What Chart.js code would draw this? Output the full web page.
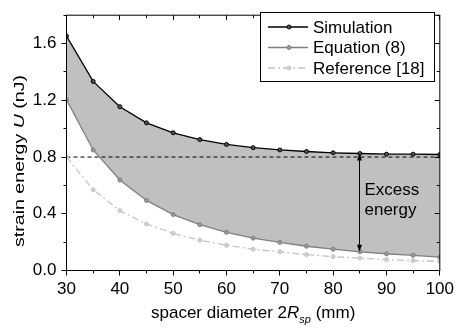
<!DOCTYPE html>
<html><head><meta charset="utf-8">
<script src="https://cdn.jsdelivr.net/npm/chart.js@4.4.0/dist/chart.umd.min.js"></script>
<style>html,body{margin:0;padding:0;background:#fff}#wrap{width:458px;height:331px}</style>
</head><body><div id="wrap"><canvas id="c" width="458" height="331"></canvas></div>
<script>
// ---- data ----
const diameters   = [30, 35, 40, 45, 50, 55, 60, 65, 70, 75, 80, 85, 90, 95, 100];
const simulation  = [1.653, 1.333, 1.155, 1.041, 0.971, 0.923, 0.889, 0.866, 0.850, 0.839, 0.830, 0.825, 0.820, 0.820, 0.818];
const equation8   = [1.203, 0.850, 0.638, 0.494, 0.394, 0.323, 0.269, 0.228, 0.198, 0.171, 0.150, 0.132, 0.118, 0.107, 0.094];
const reference18 = [0.800, 0.570, 0.422, 0.328, 0.262, 0.214, 0.178, 0.150, 0.132, 0.112, 0.098, 0.087, 0.077, 0.070, 0.064];
const seriesLabels = ['Simulation', 'Equation (8)', 'Reference [18]'];
const xTicks = [30, 40, 50, 60, 70, 80, 90, 100];
const yTicks = [0.0, 0.4, 0.8, 1.2, 1.6];
const thresholdLevel = 0.8;
const excessAt = 85;
const excessLabel = ['Excess', 'energy'];
const xTitle = ['spacer diameter 2', 'R', 'sp', ' (mm)'];
const yTitle = ['strain energy ', 'U', ' (nJ)'];

const FONT = "'Liberation Sans', Arial, Helvetica, sans-serif";
const pts = (arr) => diameters.map((x, i) => ({x, y: arr[i]}));
const mid = (arr) => arr.slice(0, -1).map((v, i) => (v + arr[i + 1]) / 2);

const overlay = {
  id: 'overlay',
  afterDraw(chart) {
    const {ctx, chartArea: a, scales: {x, y}} = chart;
    const cx = v => Math.floor(x.getPixelForValue(v)) + 0.5;
    const cy = v => Math.floor(y.getPixelForValue(v)) + 0.5;
    ctx.save();
    ctx.strokeStyle = '#000';
    ctx.lineWidth = 1;
    ctx.setLineDash([]);
    // frame
    ctx.strokeRect(a.left, a.top, a.right - a.left, a.bottom - a.top);
    ctx.beginPath();
    const xMajor = xTicks, xMinor = mid(xTicks);
    const yAll = yTicks.concat([2.0]);
    const yMajor = yTicks, yMinor = mid(yAll).filter(v => v <= y.max + 1e-9);
    xMajor.forEach(v => { const p = cx(v); ctx.moveTo(p, a.bottom); ctx.lineTo(p, a.bottom + 5); ctx.moveTo(p, a.top); ctx.lineTo(p, a.top + 5); });
    xMinor.forEach(v => { const p = cx(v); ctx.moveTo(p, a.bottom); ctx.lineTo(p, a.bottom + 3); ctx.moveTo(p, a.top); ctx.lineTo(p, a.top + 3); });
    yMajor.forEach(v => { const p = cy(v); ctx.moveTo(a.left, p); ctx.lineTo(a.left - 5, p); ctx.moveTo(a.right, p); ctx.lineTo(a.right - 5, p); });
    yMinor.forEach(v => { const p = cy(v); ctx.moveTo(a.left, p); ctx.lineTo(a.left - 3, p); ctx.moveTo(a.right, p); ctx.lineTo(a.right - 3, p); });
    ctx.stroke();

    // excess energy arrow
    const i85 = diameters.indexOf(excessAt);
    const ax = cx(excessAt);
    const yTop = y.getPixelForValue(simulation[i85]);
    const yBot = y.getPixelForValue(equation8[i85]);
    ctx.beginPath();
    ctx.moveTo(ax, yTop + 5); ctx.lineTo(ax, yBot - 5);
    ctx.stroke();
    ctx.fillStyle = '#000';
    ctx.beginPath();
    ctx.moveTo(ax, yTop); ctx.lineTo(ax - 2.5, yTop + 7); ctx.lineTo(ax + 2.5, yTop + 7); ctx.closePath(); ctx.fill();
    ctx.beginPath();
    ctx.moveTo(ax, yBot); ctx.lineTo(ax - 2.5, yBot - 7); ctx.lineTo(ax + 2.5, yBot - 7); ctx.closePath(); ctx.fill();
    ctx.font = '17px ' + FONT;
    ctx.textAlign = 'left';
    ctx.textBaseline = 'alphabetic';
    ctx.fillText(excessLabel[0], ax + 5, 195);
    ctx.fillText(excessLabel[1], ax + 5, 214.5);

    // legend
    const lx = 260.5, ly = 12.5, lw = 174, lh = 69;
    ctx.fillStyle = '#fff';
    ctx.fillRect(lx, ly, lw, lh);
    ctx.strokeStyle = '#000';
    ctx.strokeRect(lx, ly, lw, lh);
    const rows = [27, 47.5, 68];
    for (let i = 0; i < 3; i++) {
      const ds = chart.data.datasets[i];
      const ry = rows[i];
      ctx.strokeStyle = ds.borderColor;
      ctx.lineWidth = ds.borderWidth;
      ctx.setLineDash(ds.borderDash || []);
      ctx.beginPath(); ctx.moveTo(268, ry); ctx.lineTo(308, ry); ctx.stroke();
      ctx.setLineDash([]);
      ctx.fillStyle = ds.pointBackgroundColor;
      ctx.strokeStyle = ds.pointBorderColor;
      ctx.lineWidth = 1;
      ctx.beginPath(); ctx.arc(289, ry, 2, 0, Math.PI * 2); ctx.fill(); ctx.stroke();
      ctx.fillStyle = '#000';
      ctx.font = '17px ' + FONT;
      ctx.textBaseline = 'middle';
      ctx.fillText(ds.label, 313, ry + 1);
    }

    // x title
    ctx.fillStyle = '#000';
    ctx.textBaseline = 'alphabetic';
    const fN = '17px ' + FONT, fI = 'italic 17px ' + FONT, fS = 'italic 11px ' + FONT;
    ctx.font = fN; const w0 = ctx.measureText(xTitle[0]).width;
    ctx.font = fI; const w1 = ctx.measureText(xTitle[1]).width;
    ctx.font = fS; const w2 = ctx.measureText(xTitle[2]).width;
    ctx.font = fN; const w3 = ctx.measureText(xTitle[3]).width;
    let tx = (a.left + a.right) / 2 - (w0 + w1 + w2 + w3) / 2;
    const tb = 318;
    ctx.font = fN; ctx.fillText(xTitle[0], tx, tb); tx += w0;
    ctx.font = fI; ctx.fillText(xTitle[1], tx, tb); tx += w1;
    ctx.font = fS; ctx.fillText(xTitle[2], tx, tb + 5); tx += w2;
    ctx.font = fN; ctx.fillText(xTitle[3], tx, tb);

    // y title (rotated)
    ctx.save();
    ctx.translate(23.5, 161);
    ctx.rotate(-Math.PI / 2);
    const yf = '15px ' + FONT, yfi = 'italic 15px ' + FONT;
    ctx.font = yf; const u0 = ctx.measureText(yTitle[0]).width;
    ctx.font = yfi; const u1 = ctx.measureText(yTitle[1]).width;
    ctx.font = yf; const u2 = ctx.measureText(yTitle[2]).width;
    const tot = u0 + u1 + u2;
    const sx = 172 / tot;
    ctx.scale(sx, 1);
    let ux = -tot / 2;
    ctx.font = yf; ctx.fillText(yTitle[0], ux, 0); ux += u0;
    ctx.font = yfi; ctx.fillText(yTitle[1], ux, 0); ux += u1;
    ctx.font = yf; ctx.fillText(yTitle[2], ux, 0);
    ctx.restore();

    ctx.restore();
  }
};

new Chart(document.getElementById('c'), {
  type: 'line',
  data: {
    datasets: [
      {label: seriesLabels[0], data: pts(simulation), borderColor: '#000', borderWidth: 1.3,
       pointRadius: 2, pointBorderWidth: 1, pointBackgroundColor: '#555', pointBorderColor: '#000',
       fill: '+1', backgroundColor: '#c0c0c0', tension: 0},
      {label: seriesLabels[1], data: pts(equation8), borderColor: '#808080', borderWidth: 1.3,
       pointRadius: 2, pointBorderWidth: 1, pointBackgroundColor: '#999', pointBorderColor: '#808080',
       fill: false, tension: 0},
      {label: seriesLabels[2], data: pts(reference18), borderColor: '#c4c4c4', borderWidth: 1.3,
       borderDash: [7, 3, 2, 3], pointRadius: 2, pointBorderWidth: 1,
       pointBackgroundColor: '#d0d0d0', pointBorderColor: '#c4c4c4', fill: false, tension: 0},
      {label: 'threshold', data: [{x: diameters[0], y: thresholdLevel}, {x: diameters[diameters.length - 1], y: thresholdLevel}],
       borderColor: '#000', borderWidth: 1, borderDash: [4, 3], pointRadius: 0, fill: false}
    ]
  },
  options: {
    responsive: false,
    animation: false,
    devicePixelRatio: 1,
    layout: {padding: {top: 6.5, right: 12.5, left: 0, bottom: 0}},
    plugins: {
      legend: {display: false},
      tooltip: {enabled: false},
      filler: {drawTime: 'beforeDatasetsDraw'}
    },
    scales: {
      x: {
        type: 'linear', min: 30, max: 100,
        afterBuildTicks: s => { s.ticks = xTicks.map(v => ({value: v})); },
        afterFit: s => { s.height = 60.5; },
        grid: {display: true, drawOnChartArea: false, color: 'rgba(0,0,0,0)', tickLength: 5},
        border: {display: false},
        ticks: {color: '#000', font: {family: FONT, size: 17}, padding: 4, maxRotation: 0, autoSkip: false,
                callback: v => String(v)}
      },
      y: {
        type: 'linear', min: 0, max: 1.8,
        afterBuildTicks: s => { s.ticks = yTicks.map(v => ({value: v})); },
        afterFit: s => { s.width = 66.5; },
        grid: {display: true, drawOnChartArea: false, color: 'rgba(0,0,0,0)', tickLength: 5},
        border: {display: false},
        ticks: {color: '#000', font: {family: FONT, size: 17}, padding: 5, autoSkip: false,
                callback: v => Number(v).toFixed(1)}
      }
    }
  },
  plugins: [overlay]
});
</script></body></html>
